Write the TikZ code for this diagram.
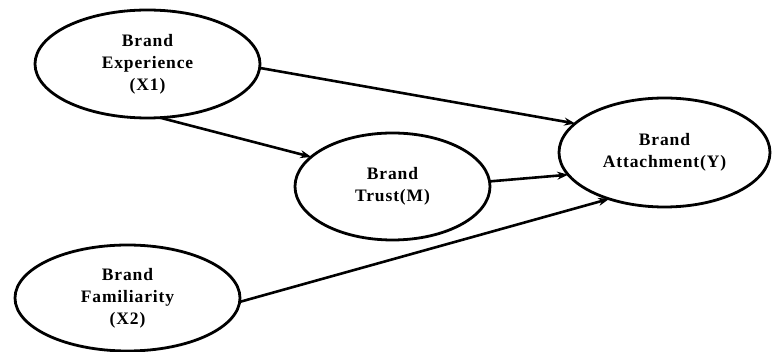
\documentclass[tikz,border=0pt]{standalone}
\usepackage{fontspec}
\setmainfont{Liberation Serif}[LetterSpace=5]
\usetikzlibrary{shapes.geometric,arrows.meta}
\begin{document}
\begin{tikzpicture}[x=1pt,y=1pt,
  var/.style={ellipse,draw=black,line width=2.8pt,inner sep=0pt,outer sep=0pt,
    align=center,font=\fontsize{17.5}{22}\selectfont\bfseries},
  arr/.style={line width=2.6pt,-{Stealth[length=11pt,width=8pt]}}]
\useasboundingbox (0,0) rectangle (772,-352);
\node[var,minimum width=225pt,minimum height=108pt] (x1) at (147.5,-64) {Brand\\Experience\\(X1)};
\node[var,minimum width=195pt,minimum height=107pt] (m) at (392.5,-186.5) {Brand\\Trust(M)};
\node[var,minimum width=211pt,minimum height=109pt] (y) at (664.5,-152.5) {Brand\\Attachment(Y)};
\node[var,minimum width=225pt,minimum height=106pt] (x2) at (127.5,-298) {Brand\\Familiarity\\(X2)};
\draw[arr] (x1.-2.5) -- (y.162.2);
\draw[arr] (x1.-77.2) -- (m.160.9);
\draw[arr] (m.3.9) -- (y.-167.3);
\draw[arr] (x2.-2) -- (y.-140.5);
\end{tikzpicture}
\end{document}
